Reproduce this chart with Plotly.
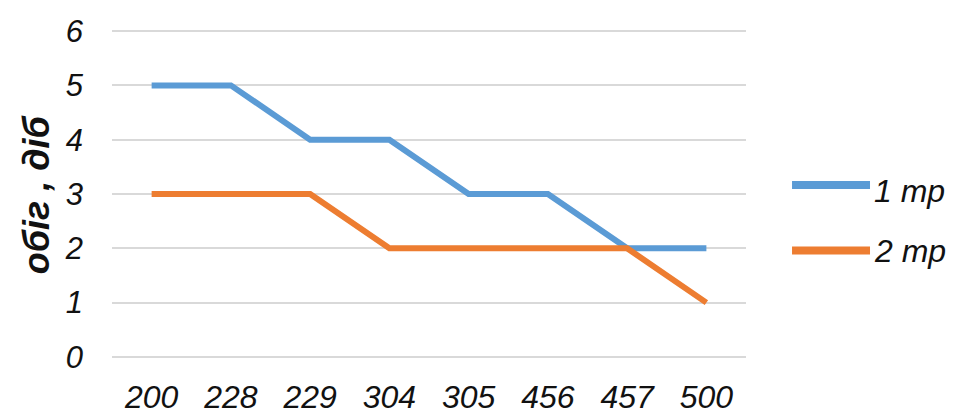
import plotly.graph_objects as go

# Category labels along the x axis and the two series
categories = ["200", "228", "229", "304", "305", "456", "457", "500"]
series_1 = [5, 5, 4, 4, 3, 3, 2, 2]
series_2 = [3, 3, 3, 2, 2, 2, 2, 1]
series_names = ["1 mp", "2 mp"]
y_ticks = [0, 1, 2, 3, 4, 5, 6]
y_title = "обіг , діб"

BLUE = "#5B9BD5"
ORANGE = "#ED7D31"
TEXT = "#111111"
FONT = "Liberation Sans, Arial, sans-serif"

fig = go.Figure()
for name, vals, color in [(series_names[0], series_1, BLUE),
                          (series_names[1], series_2, ORANGE)]:
    fig.add_trace(go.Scatter(
        x=list(range(len(categories))), y=vals, mode="lines", name=name,
        line=dict(color=color, width=6, shape="linear"),
        showlegend=False, hoverinfo="skip",
    ))

# Hand-drawn legend with long line samples
legend_rows = [(series_names[0], BLUE, 0.5276, 0.509),
               (series_names[1], ORANGE, 0.328, 0.325)]
for name, color, y_line, y_text in legend_rows:
    fig.add_shape(type="line", xref="paper", yref="paper",
                  x0=1.0726, x1=1.1956, y0=y_line, y1=y_line,
                  line=dict(color=color, width=8))
    fig.add_annotation(xref="paper", yref="paper", x=1.199, y=y_text,
                       xanchor="left", yanchor="middle", text=name,
                       showarrow=False,
                       font=dict(family=FONT, size=32, color=TEXT,
                                 style="italic"))

# Vertical axis title
fig.add_annotation(xref="paper", yref="paper", x=-0.1195, y=0.5,
                   xanchor="center", yanchor="middle", textangle=-90,
                   text=y_title, showarrow=False,
                   font=dict(family=FONT, size=36, color=TEXT,
                             weight="bold", style="italic"))

fig.update_layout(
    width=960, height=419,
    margin=dict(l=112, r=214, t=30, b=61),
    paper_bgcolor="white", plot_bgcolor="white",
    font=dict(family=FONT, color=TEXT),
    xaxis=dict(
        range=[-0.5, len(categories) - 0.5], automargin=False,
        tickmode="array", tickvals=list(range(len(categories))),
        ticktext=categories, showgrid=False, zeroline=False,
        showline=False, ticks="",
        tickfont=dict(family=FONT, size=32, color=TEXT, style="italic"),
        ticklabelstandoff=17,
    ),
    yaxis=dict(
        range=[-0.02, 6.02], automargin=False,
        tickmode="array", tickvals=y_ticks,
        showgrid=True, gridcolor="#D9D9D9", gridwidth=2,
        zeroline=False, showline=False, ticks="",
        tickfont=dict(family=FONT, size=31, color=TEXT, style="italic"),
        ticklabelstandoff=28,
    ),
)

fig.write_html("out.html")
